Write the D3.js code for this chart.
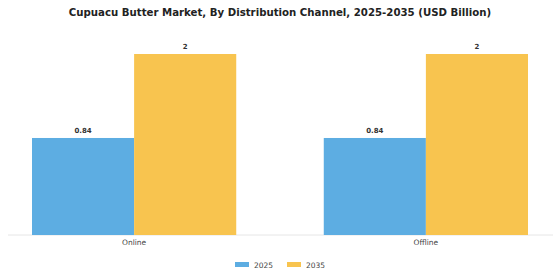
<!DOCTYPE html>
<html>
<head>
<meta charset="utf-8">
<script src="https://cdn.jsdelivr.net/npm/d3@7"></script>
<style>
  body { margin: 0; background: #fff; }
  text { font-family: "DejaVu Sans", sans-serif; }
</style>
</head>
<body>
<div id="chart"></div>
<script>
// chart data
const channels = ["Online", "Offline"];
const years = ["2025", "2035"];
const values2025 = [0.84, 0.84];
const values2035 = [2, 2];

const width = 560, height = 280;
const colour = { "2025": "#5DADE2", "2035": "#F8C44F" };

// rows for the grouped bars
const rows = channels.map((c, i) => ({
  channel: c,
  vals: [
    { year: "2025", value: values2025[i] },
    { year: "2035", value: values2035[i] }
  ]
}));

const svg = d3.select("#chart").append("svg")
  .attr("width", width)
  .attr("height", height);

svg.append("text")
  .attr("x", width / 2)
  .attr("y", 16)
  .attr("text-anchor", "middle")
  .style("font-size", "10.2px")
  .style("font-weight", "bold")
  .style("fill", "#222")
  .text("Cupuacu Butter Market, By Distribution Channel, 2025-2035 (USD Billion)");

const x0 = d3.scaleBand()
  .domain(channels)
  .range([32, 528])
  .paddingInner(0.3)
  .paddingOuter(0);

const x1 = d3.scaleBand()
  .domain(years)
  .range([0, x0.bandwidth()])
  .padding(0);

// the source chart puts its baseline a little below zero
const y = d3.scaleLinear()
  .domain([-0.5, 2])
  .range([235, 54]);

// baseline
svg.append("line")
  .attr("x1", 8).attr("x2", 553)
  .attr("y1", y(-0.5)).attr("y2", y(-0.5))
  .attr("stroke", "#e6e6e6")
  .attr("stroke-width", 1);

const groups = svg.selectAll(".grp")
  .data(rows)
  .enter().append("g")
  .attr("class", "grp")
  .attr("transform", d => `translate(${x0(d.channel)},0)`);

groups.selectAll("rect")
  .data(d => d.vals)
  .enter().append("rect")
  .attr("x", d => x1(d.year))
  .attr("y", d => y(d.value))
  .attr("width", x1.bandwidth())
  .attr("height", d => y(-0.5) - y(d.value))
  .attr("fill", d => colour[d.year]);

groups.selectAll(".lbl")
  .data(d => d.vals)
  .enter().append("text")
  .attr("class", "lbl")
  .attr("x", d => x1(d.year) + x1.bandwidth() / 2)
  .attr("y", d => y(d.value) - 5)
  .attr("text-anchor", "middle")
  .style("font-size", "7px")
  .style("font-weight", "bold")
  .style("fill", "#333")
  .text(d => d.value);

// category labels
svg.selectAll(".cat")
  .data(channels)
  .enter().append("text")
  .attr("class", "cat")
  .attr("x", d => x0(d) + x0.bandwidth() / 2)
  .attr("y", 245)
  .attr("text-anchor", "middle")
  .style("font-size", "7.5px")
  .style("fill", "#444")
  .text(d => d);

// legend
const legend = svg.selectAll(".leg")
  .data(years)
  .enter().append("g")
  .attr("class", "leg")
  .attr("transform", (d, i) => `translate(${235 + i * 52},262)`);

legend.append("rect")
  .attr("width", 14)
  .attr("height", 5)
  .attr("fill", d => colour[d]);

legend.append("text")
  .attr("x", 19)
  .attr("y", 5.5)
  .style("font-size", "7.5px")
  .style("fill", "#444")
  .text(d => d);
</script>
</body>
</html>
